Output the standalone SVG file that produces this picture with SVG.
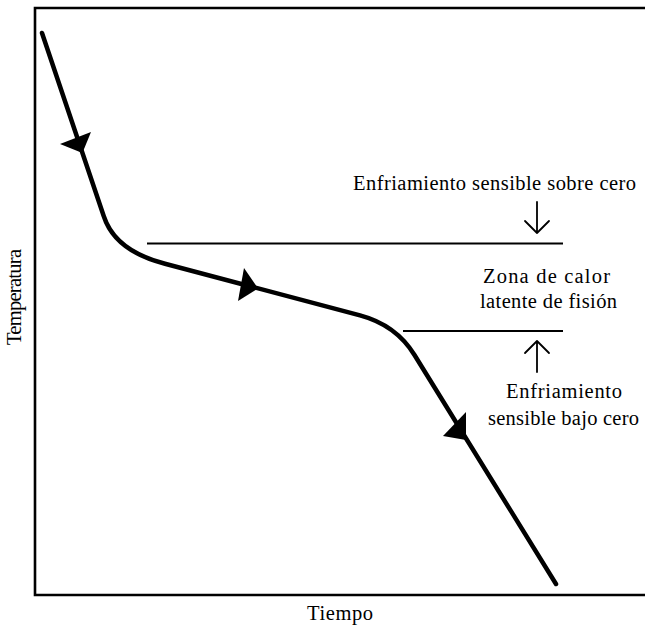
<svg xmlns="http://www.w3.org/2000/svg" width="645" height="627" viewBox="0 0 645 627">
<defs>
<style>
.t{font-family:"Liberation Serif","Times New Roman",serif;font-size:20.5px;fill:#000;text-anchor:middle}
.curve{fill:none;stroke:#000;stroke-width:4.5;stroke-linecap:round;stroke-linejoin:round}
.lvl{stroke:#000;stroke-width:2;fill:none}
.ar{fill:none;stroke:#000;stroke-width:1.8;stroke-linecap:round;stroke-linejoin:round}
.head{fill:#000}
</style>
</defs>
<rect width="645" height="627" fill="#fff"/>
<g id="frame">
<path d="M648,8 H35 V595 H648" fill="none" stroke="#000" stroke-width="2.6"/>
</g>
<g id="connectors">
<path class="curve" d="M42,33 L103.7,216 Q115,251 165,263.7 L360,315.4 Q396,325 414.5,355 L556,584"/>
<polygon class="head" points="82.4,153 60,144 91,132"/>
<polygon class="head" points="258,288.4 244,268 238,301"/>
<polygon class="head" points="466,440 443,436 466,412"/>
<line class="lvl" x1="147" y1="243.5" x2="563" y2="243.5"/>
<line class="lvl" x1="403" y1="331" x2="563" y2="331"/>
<path class="ar" d="M537,202 V233 M525,221 L537,233 L549,221"/>
<path class="ar" d="M537,372 V341 M525,353 L537,341 L549,353"/>
</g>
<g id="labels" font-family="Liberation Serif, Times New Roman, serif">
<text class="t" x="494.5" y="190" textLength="283" lengthAdjust="spacing">Enfriamiento sensible sobre cero</text>
<text class="t" x="546.5" y="283" textLength="127" lengthAdjust="spacing">Zona de calor</text>
<text class="t" x="548.5" y="308" textLength="137" lengthAdjust="spacing">latente de fisión</text>
<text class="t" x="564" y="398" textLength="116" lengthAdjust="spacing">Enfriamiento</text>
<text class="t" x="563.5" y="425" textLength="151" lengthAdjust="spacing">sensible bajo cero</text>
<text class="t" x="340" y="620" textLength="66" lengthAdjust="spacing">Tiempo</text>
<text class="t" transform="translate(21,297) rotate(-90)" textLength="96" lengthAdjust="spacing">Temperatura</text>
</g>
</svg>
